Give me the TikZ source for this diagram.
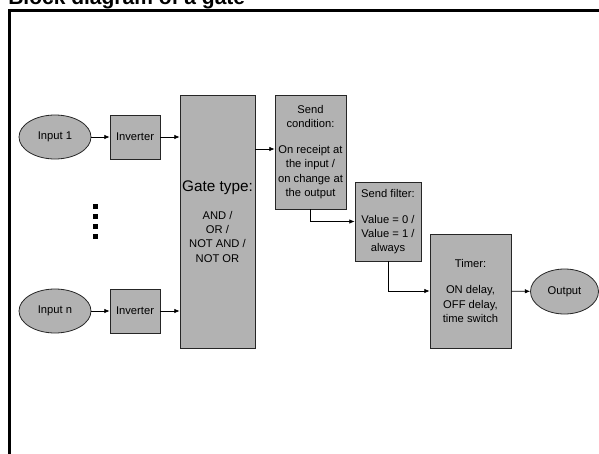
\documentclass[tikz,border=0pt]{standalone}
\usepackage{fontspec}
\setmainfont{Liberation Sans}
\usetikzlibrary{calc,shapes.geometric,arrows.meta}
\tikzset{tight/.style={inner sep=0pt},
  block/.style={draw=black!85, fill=gray!60, rectangle, line width=0.6pt,
    align=center, font=\fontsize{8.4}{10.7}\selectfont},
  port/.style={draw=black!85, fill=gray!60, ellipse, line width=0.6pt,
    minimum width=54pt, minimum height=33pt, font=\fontsize{8.4}{10.7}\selectfont},
  flow/.style={-{Latex[length=4pt,width=3.4pt]}, line width=0.5pt}}

\begin{document}
\begin{tikzpicture}[x=0.75pt, y=-0.75pt, style=tight]
          \useasboundingbox (0, 0) rectangle (599, 453);
          \clip (0, 0) rectangle (599, 453);

          \node at (8, 4.5) [anchor=base west, font=\fontsize{15.75}{18}\bfseries\selectfont] (title) {Block diagram of a gate};
          \draw[line width=1.9pt] (9.5, 460) -- (9.5, 10.5) -- (605, 10.5);

          \node at (217.5, 221.5) [block, minimum width=56.25pt, minimum height=189.75pt] (gate)
            {{\fontsize{11.5}{14}\selectfont Gate type:}\\[10pt] AND /\\ OR /\\ NOT AND /\\ NOT OR};

          \foreach \y / \num / \lbl in {137/1/1, 311/n/n} {
            \node at (55, \y) [port] (in\num) {Input \lbl};
            \node at (135, \y) [block, minimum width=37.5pt, minimum height=33pt] (inv\num) {Inverter};
            \draw[flow] (in\num) -- (inv\num);
            \draw[flow] (inv\num) -- (gate.west |- inv\num);
          }

          % dots between the two inputs
          \foreach \d in {0, ..., 3}
            \fill (92.5, 204 + 10*\d) rectangle ++(5, 5);

          \node at (310.5, 152) [block, minimum width=53.25pt, minimum height=85.5pt] (cond)
            {Send\\ condition:\\[8.8pt] On receipt at\\ the input /\\ on change at\\ the output};
          \node at (388, 221.5) [block, minimum width=49.5pt, minimum height=59.25pt] (filter)
            {Send filter:\\[8.8pt] Value = 0 /\\ Value = 1 /\\ always};
          \node at (470.5, 291) [block, minimum width=60.75pt, minimum height=85.5pt] (timer)
            {Timer:\\[8.8pt] ON delay,\\ OFF delay,\\ time switch};
          \node at (564.5, 291.5) [port, minimum width=51pt, minimum height=33.75pt] (out) {Output};

          \draw[flow] ($ (gate.east |- cond.west) + (0, -3) $) -- ($ (cond.west) + (0, -3) $);
          \draw[flow] (cond.south) |- (filter.west);
          \draw[flow] (filter.south) |- (timer.west);
          \draw[flow] (timer) -- (out);
        \end{tikzpicture}
\end{document}
